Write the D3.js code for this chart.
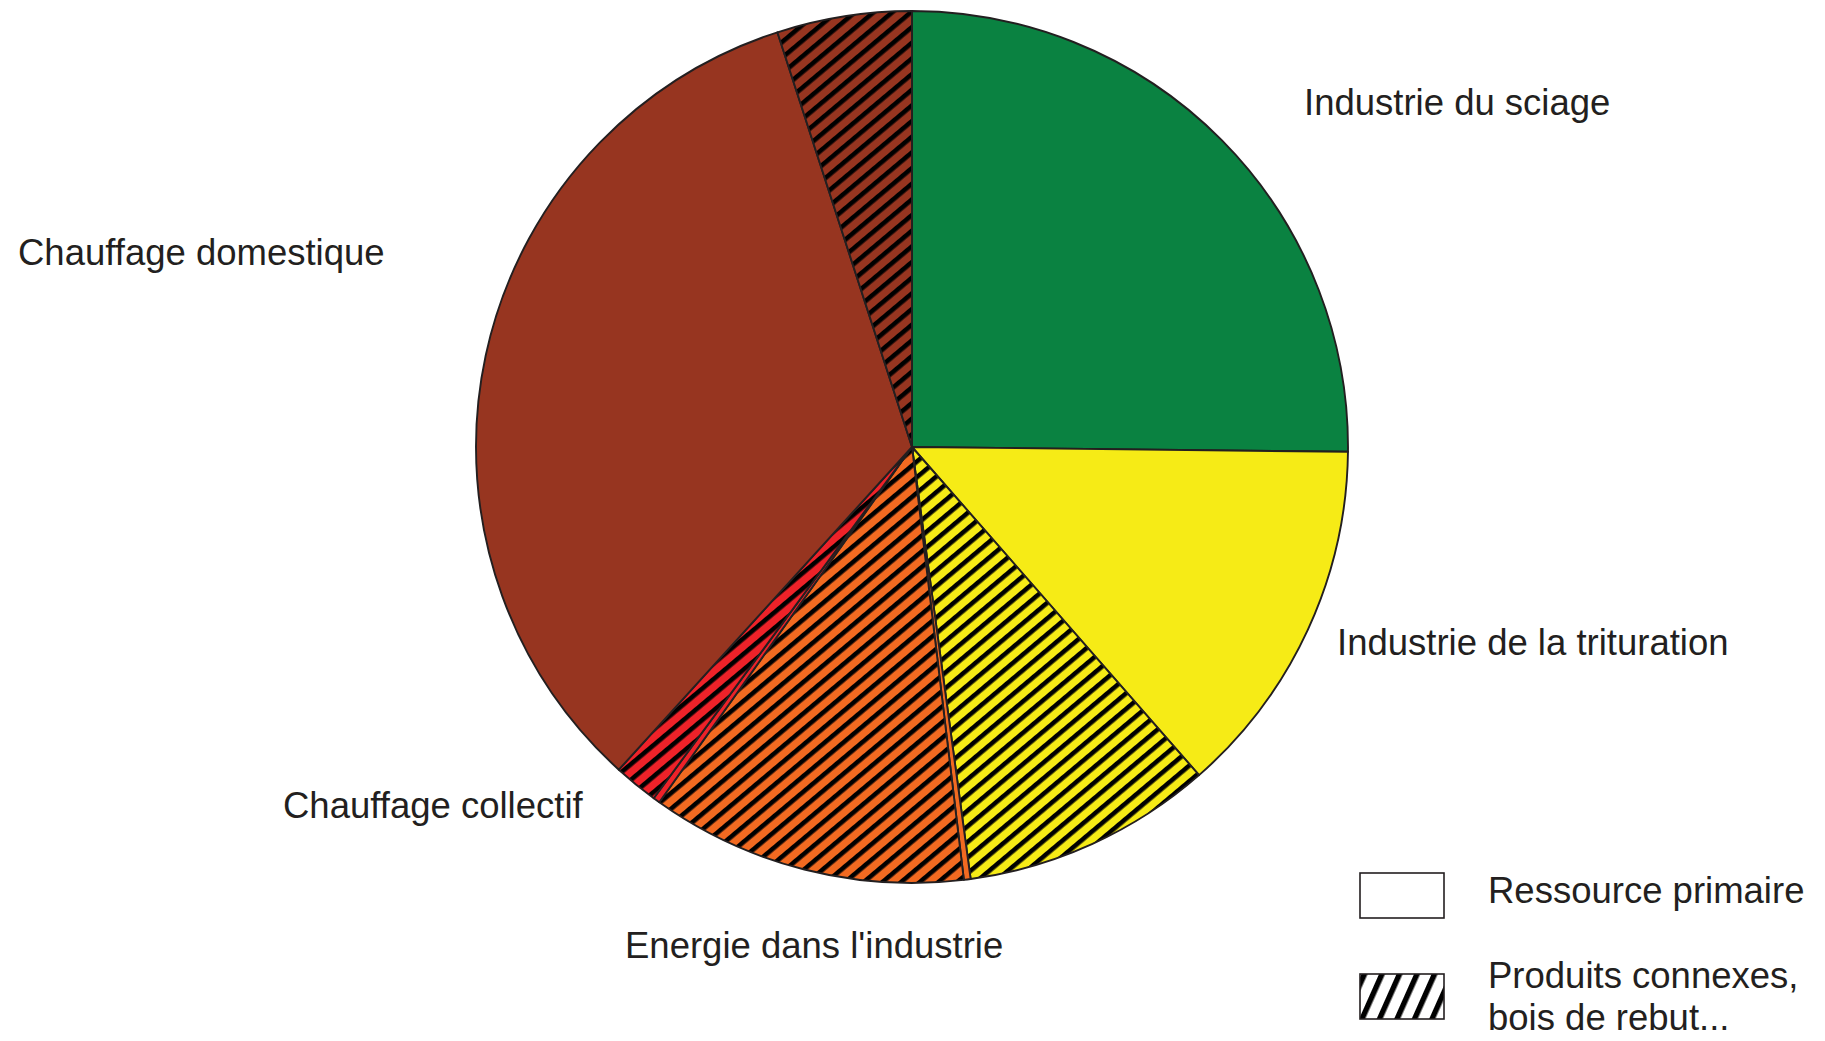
<!DOCTYPE html>
<html>
<head>
<meta charset="utf-8">
<script src="https://cdn.jsdelivr.net/npm/d3@7"></script>
<style>
    html, body { margin: 0; padding: 0; background: #fff; }
    svg { display: block; }
    .pie-label, .legend-label { font-family: 'Liberation Sans', Arial, sans-serif; font-size: 36.5px; fill: #231f20; }
    .pie-slice { stroke: #231f20; stroke-width: 1.9; stroke-linejoin: round; }
</style>
</head>
<body>
<div id="chart"></div>
<script>
const categories = ['Industrie du sciage', 'Industrie de la trituration', "Energie dans l'industrie", 'Chauffage collectif', 'Chauffage domestique']
const primaire = [25.2, 13.4, 0.25, 0.25, 33.3]
const connexes = [0, 9.3, 11.75, 1.65, 5.0]
const legendLabels = ['Ressource primaire', ['Produits connexes,', 'bois de rebut...']]

const colors = ['#0a8241', '#f6eb16', '#f26a21', '#ee2229', '#973520']

const width = 1825
const height = 1041
const center = { x: 912, y: 447 }
const radius = 436

// positions des libellés (x, ligne de base)
const labelPos = [
    { x: 1304, y: 115 },
    { x: 1337, y: 655 },
    { x: 625, y: 958 },
    { x: 283, y: 818 },
    { x: 18, y: 265 }
]

const slices = []
categories.forEach((c, i) => {
    if (primaire[i] > 0) slices.push({ cat: i, type: 'primaire', value: primaire[i] })
    if (connexes[i] > 0) slices.push({ cat: i, type: 'connexes', value: connexes[i] })
})

const svg = d3.select('#chart').append('svg')
    .attr('width', width)
    .attr('height', height)

const defs = svg.append('defs')

// motif hachuré par catégorie
const hp = 12
colors.forEach((col, i) => {
    const p = defs.append('pattern')
        .attr('id', 'hatch-' + i)
        .attr('patternUnits', 'userSpaceOnUse')
        .attr('width', hp)
        .attr('height', hp)
        .attr('patternTransform', 'rotate(50)')
    p.append('rect').attr('width', hp).attr('height', hp).attr('fill', col)
    p.append('rect').attr('width', 4.6).attr('height', hp).attr('fill', '#000')
})
const lp = defs.append('pattern')
    .attr('id', 'hatch-legend')
    .attr('patternUnits', 'userSpaceOnUse')
    .attr('width', 16)
    .attr('height', 16)
    .attr('patternTransform', 'translate(1362,973) rotate(24)')
lp.append('rect').attr('width', 16).attr('height', 16).attr('fill', '#fff')
lp.append('rect').attr('width', 5.5).attr('height', 16).attr('fill', '#000')

const pie = d3.pie()
    .sort(null)
    .value(d => d.value)
    .startAngle(0)
    .endAngle(2 * Math.PI)

const arc = d3.arc()
    .innerRadius(0)
    .outerRadius(radius)

const g = svg.append('g')
    .attr('transform', 'translate(' + center.x + ',' + center.y + ')')

g.selectAll('.pie-slice')
    .data(pie(slices))
    .enter()
    .append('path')
    .attr('class', 'pie-slice')
    .attr('d', arc)
    .attr('fill', d => d.data.type === 'primaire' ? colors[d.data.cat] : 'url(#hatch-' + d.data.cat + ')')

svg.selectAll('.pie-label')
    .data(categories)
    .enter()
    .append('text')
    .attr('class', 'pie-label')
    .attr('x', (d, i) => labelPos[i].x)
    .attr('y', (d, i) => labelPos[i].y)
    .text(d => d)

// légende
const legendG = svg.append('g')
legendG.append('rect')
    .attr('x', 1360).attr('y', 873).attr('width', 84).attr('height', 45)
    .attr('fill', '#fff').attr('stroke', '#231f20').attr('stroke-width', 1.6)
legendG.append('rect')
    .attr('x', 1360).attr('y', 974).attr('width', 84).attr('height', 45)
    .attr('fill', 'url(#hatch-legend)').attr('stroke', '#231f20').attr('stroke-width', 1.6)
legendG.append('text')
    .attr('class', 'legend-label')
    .attr('x', 1488).attr('y', 903)
    .text(legendLabels[0])
const t2 = legendG.append('text')
    .attr('class', 'legend-label')
    .attr('x', 1488).attr('y', 988)
t2.selectAll('tspan')
    .data(legendLabels[1])
    .enter()
    .append('tspan')
    .attr('x', 1488)
    .attr('dy', (d, i) => i === 0 ? 0 : 42)
    .text(d => d)
</script>
</body>
</html>
